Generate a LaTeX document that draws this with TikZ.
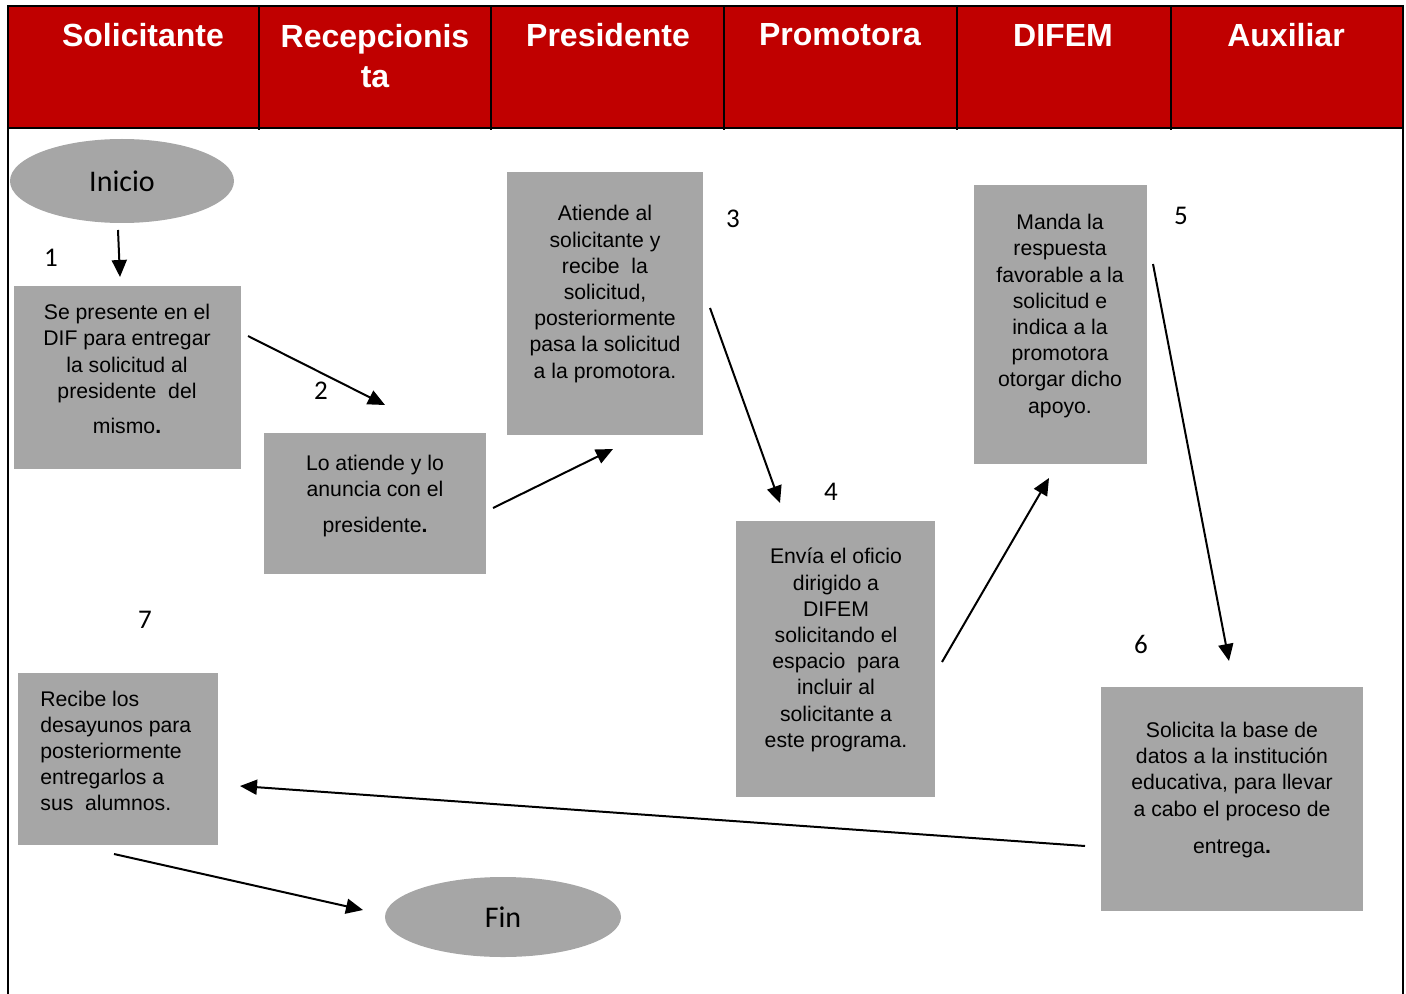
\documentclass[tikz,border=0pt]{standalone}
\usepackage{fontspec}
\setmainfont{Liberation Sans}
\newfontfamily\calfont{Carlito}
\usetikzlibrary{arrows.meta,shapes.geometric}
\definecolor{hdr}{HTML}{C00000}
\definecolor{gbox}{HTML}{A6A6A6}
\begin{document}
\begin{tikzpicture}[x=0.5pt,y=-0.5pt,
 box/.style={fill=gbox, draw=none, inner sep=0},
 txt/.style={font=\fontsize{10.6}{13.1}\selectfont, align=center, inner sep=0, text=black},
 hd/.style={font=\fontsize{16}{20}\selectfont\bfseries, text=white, align=center, inner sep=0},
 num/.style={font=\calfont\fontsize{13.5}{15}\selectfont, inner sep=0},
 term/.style={ellipse, fill=gbox, inner sep=0, font=\calfont\fontsize{15}{17}\selectfont},
 arr/.style={-{Triangle[length=8.5pt,width=7.5pt]}, line width=1pt},
 frame/.style={line width=1pt, draw=black}
]
\useasboundingbox (0,0) rectangle (1406,994);
% header
\fill[hdr] (8,6) rectangle (1403,128);
\draw[frame] (8,994) -- (8,6) -- (1403,6) -- (1403,994);
\draw[frame] (8,128) -- (1403,128);
\foreach \x in {259,491,724,957,1171} \draw[frame] (\x,6) -- (\x,130);
\node[hd] (h1) at (143,35) {Solicitante};
\node[hd] (h2) at (375,56) {Recepcionis\\ta};
\node[hd] (h3) at (608,35) {Presidente};
\node[hd] (h4) at (840,35) {Promotora};
\node[hd] (h5) at (1063,35) {DIFEM};
\node[hd] (h6) at (1286,35) {Auxiliar};
% terminals
\node[term, minimum width=112pt, minimum height=42pt] (ini) at (122,181) {Inicio};
\node[term, minimum width=118pt, minimum height=40pt] (fin) at (503,917) {Fin};
% boxes
\node[box, minimum width=113.5pt, minimum height=91.5pt] (b1) at (127.5,377.5) {};
\node[box, minimum width=111pt, minimum height=70.5pt] (b2) at (375,503.5) {};
\node[box, minimum width=98pt, minimum height=131.5pt] (b3) at (605,303.5) {};
\node[box, minimum width=99.5pt, minimum height=138pt] (b4) at (835.5,659) {};
\node[box, minimum width=86.5pt, minimum height=139.5pt] (b5) at (1060.5,324.5) {};
\node[box, minimum width=131pt, minimum height=112pt] (b6) at (1232,799) {};
\node[box, minimum width=100pt, minimum height=86pt] (b7) at (118,759) {};
% texts
\node[txt] (t1) at (127,369) {Se presente en el\\DIF para entregar\\la solicitud al\\presidente\ \ del\\[4.5pt]mismo\textbf{.}};
\node[txt] (t2) at (375,496) {Lo atiende y lo\\anuncia con el\\[4.5pt]presidente\textbf{.}};
\node[txt] (t3) at (605,294) {Atiende al\\solicitante y\\recibe\ \ la\\solicitud,\\posteriormente\\pasa la solicitud\\a la promotora.};
\node[txt] (t4) at (836,650) {Envía el oficio\\dirigido a\\DIFEM\\solicitando el\\espacio\ \ para\\incluir al\\solicitante a\\este programa.};
\node[txt] (t5) at (1060,316) {Manda la\\respuesta\\favorable a la\\solicitud e\\indica a la\\promotora\\otorgar dicho\\apoyo.};
\node[txt] (t6) at (1232,790) {Solicita la base de\\datos a la institución\\educativa, para llevar\\a cabo el proceso de\\[5.5pt]entrega\textbf{.}};
\node[txt, align=left, anchor=west] (t7) at (40,751) {Recibe los\\desayunos para\\posteriormente\\entregarlos a\\sus\ \ alumnos.};
% numbers
\node[num] (n1) at (51,258) {1};
\node[num] (n2) at (321,391) {2};
\node[num] (n3) at (733,219) {3};
\node[num] (n4) at (831,492) {4};
\node[num] (n5) at (1181,216) {5};
\node[num] (n6) at (1141,644) {6};
\node[num] (n7) at (145,620) {7};
% arrow end points
\coordinate (c1s) at (118,230); \coordinate (c1e) at (120,277);
\coordinate (c2s) at (248,336); \coordinate (c2e) at (385,405);
\coordinate (c3s) at (493,508); \coordinate (c3e) at (613,449);
\coordinate (c4s) at (710,308); \coordinate (c4e) at (780,503);
\coordinate (c5s) at (942,662); \coordinate (c5e) at (1049,478);
\coordinate (c6s) at (1153,264); \coordinate (c6e) at (1229,661);
\coordinate (c7s) at (1085,846); \coordinate (c7e) at (240,786);
\coordinate (c8s) at (114,854); \coordinate (c8e) at (363,910);
\draw[arr] (c1s) -- (c1e);
\draw[arr] (c2s) -- (c2e);
\draw[arr] (c3s) -- (c3e);
\draw[arr] (c4s) -- (c4e);
\draw[arr] (c5s) -- (c5e);
\draw[arr] (c6s) -- (c6e);
\draw[arr] (c7s) -- (c7e);
\draw[arr] (c8s) -- (c8e);
\end{tikzpicture}
\end{document}
